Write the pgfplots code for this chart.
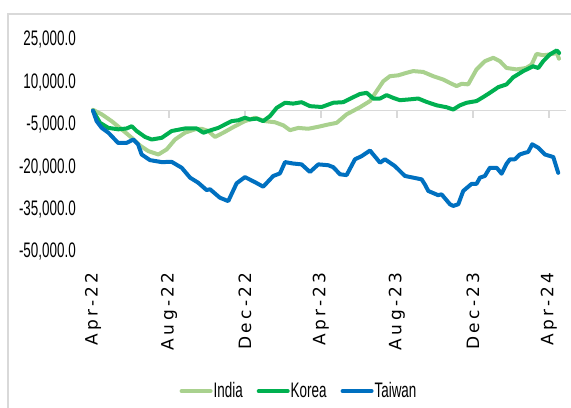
\documentclass[border=0pt]{standalone}
\usepackage{fontspec}
\setmainfont{Liberation Sans}
\newfontfamily\narrowfont[FakeStretch=0.64]{Liberation Sans}
\newfontfamily\xfont[LetterSpace=20]{DejaVu Sans}
\usepackage{pgfplots}
\pgfplotsset{compat=1.18}
\definecolor{india}{HTML}{A9D18E}
\definecolor{korea}{HTML}{00B050}
\definecolor{taiwan}{HTML}{0070C0}
\definecolor{gridgray}{HTML}{D9D9D9}
\begin{document}
\begin{tikzpicture}
\useasboundingbox (0bp,0bp) rectangle (571bp,408bp);
\draw[gridgray, line width=1.5bp] (8bp,0bp) -- (8bp,394bp) -- (571bp,394bp);
\begin{axis}[
  at={(93bp,156bp)}, anchor=south west,
  scale only axis, width=473bp, height=212bp,
  xmin=0, xmax=24.9, ymin=-50000, ymax=25000,
  scaled y ticks=false,
  axis line style={draw=none},
  tick style={draw=none},
  clip=false,
  xtick={0,4,8,12,16,20,24},
  xticklabels={Apr-22,Aug-22,Dec-22,Apr-23,Aug-23,Dec-23,Apr-24},
  ytick={-50000,-35000,-20000,-5000,10000,25000},
  yticklabels={{-50,000.0},{-35,000.0},{-20,000.0},{-5,000.0},{10,000.0},{25,000.0}},
  x tick label style={font=\xfont\fontsize{17bp}{19bp}\selectfont, rotate=90, anchor=east, inner sep=0pt},
  xticklabel shift=20bp,
  y tick label style={font=\narrowfont\fontsize{21bp}{24bp}\selectfont, anchor=east, inner sep=0pt},
  yticklabel shift=17bp,
  legend style={at={(axis description cs:0.4345,-0.656)}, anchor=center, draw=none, fill=none,
    font=\narrowfont\fontsize{21bp}{24bp}\selectfont,
    /tikz/every even column/.append style={column sep=13bp},
    nodes={inner sep=1bp}},
  legend columns=3,
  legend image code/.code={\draw[#1, line width=4bp] (0bp,0bp) -- (29bp,0bp);},
  every axis plot/.append style={line width=4bp, line join=round, line cap=round},
]
\draw[gridgray, line width=1.5bp] (axis cs:0,0) -- (axis cs:24.9,0);
\pgfplotsinvokeforeach{4,8,12,16,20,24}{\draw[gridgray, line width=1.5bp] (axis cs:#1,0) -- ++(0bp,-7bp);}
\addplot[india] coordinates {
(0,300) (0.46,-1300) (0.98,-3700) (1.51,-6600) (2.04,-9600) (2.47,-12300) (2.91,-14300)
(3.44,-15500) (3.88,-13700) (4.32,-10200) (4.84,-7800) (5.37,-6600) (5.72,-6400) (6.07,-7200)
(6.42,-9300) (6.86,-7800) (7.47,-5500) (8.0,-3700) (8.53,-2500) (9.05,-3700) (9.58,-4100)
(10.02,-5200) (10.37,-6900) (10.81,-6100) (11.33,-6400) (11.86,-5700) (12.38,-4900) (12.83,-4300)
(13.35,-1300) (14.05,1200) (14.58,3400) (14.93,6900) (15.28,10400) (15.63,12200) (16.07,12500)
(16.51,13400) (16.86,14000) (17.38,13700) (17.91,12200) (18.44,11000) (18.79,9800) (19.14,8700)
(19.41,9500) (19.75,9300) (20.19,14600) (20.63,17500) (21.07,18700) (21.42,17500) (21.77,15100)
(22.3,14600) (22.8,15100) (23.09,16300) (23.35,20100) (23.7,19600) (24.05,19900) (24.41,20400)
(24.53,18400)
};
\addlegendentry{India}
\addplot[korea] coordinates {
(0,0) (0.37,-4300) (0.81,-6100) (1.33,-6600) (1.77,-6300) (2.04,-5500) (2.3,-7200) (2.74,-9300)
(3.09,-10200) (3.62,-9600) (4.14,-7200) (4.84,-6300) (5.46,-6300) (5.81,-7800) (6.07,-7200)
(6.59,-6100) (7.3,-3700) (7.65,-3400) (8.0,-2500) (8.26,-3100) (8.62,-2800) (8.96,-3700)
(9.32,-1900) (9.67,1000) (10.11,2800) (10.54,2500) (10.98,3000) (11.42,1600) (12.04,1300)
(12.65,2800) (13.17,3000) (13.62,4500) (14.05,5900) (14.41,6300) (14.75,4300) (15.11,4300)
(15.46,5500) (15.81,4500) (16.16,3700) (16.68,4000) (17.12,4300) (17.56,3100) (18.09,1900)
(18.62,1200) (18.96,400) (19.32,1900) (19.67,2800) (20.19,3400) (20.54,4800) (20.89,6300)
(21.33,8300) (21.77,9300) (22.12,11800) (22.65,14000) (23.17,15700) (23.44,15100) (23.7,17500)
(24.05,19900) (24.41,21300) (24.54,20400)
};
\addlegendentry{Korea}
\addplot[taiwan] coordinates {
(0,0) (0.19,-3700) (0.46,-6100) (0.81,-7800) (1.32,-11400) (1.77,-11400) (2.12,-10200)
(2.37,-11900) (2.56,-15500) (3.0,-17500) (3.62,-18200) (4.14,-18100) (4.67,-20200) (5.11,-23700)
(5.54,-25500) (5.98,-28100) (6.16,-27800) (6.68,-30800) (7.12,-32000) (7.56,-25700) (8.0,-23500)
(8.53,-25300) (8.96,-26900) (9.49,-23100) (9.84,-22200) (10.11,-18200) (10.54,-18700)
(10.98,-19000) (11.42,-21700) (11.86,-19000) (12.38,-19300) (12.65,-20000) (13.0,-22500)
(13.35,-22800) (13.79,-17200) (14.14,-16100) (14.58,-14100) (15.11,-18400) (15.37,-17200)
(15.89,-19600) (16.42,-23100) (16.86,-23700) (17.3,-24300) (17.47,-26100) (17.65,-28400)
(18.17,-29900) (18.35,-29600) (18.79,-33100) (18.96,-33700) (19.23,-33100) (19.49,-28400)
(19.93,-25900) (20.19,-25900) (20.37,-23700) (20.63,-23100) (20.89,-20200) (21.25,-20200)
(21.51,-22300) (21.77,-18800) (21.95,-17200) (22.21,-17200) (22.47,-15500) (22.74,-14900)
(22.91,-14600) (23.12,-11900) (23.44,-13100) (23.79,-15500) (24.23,-16400) (24.49,-22000)
};
\addlegendentry{Taiwan}
\end{axis}
\end{tikzpicture}
\end{document}
